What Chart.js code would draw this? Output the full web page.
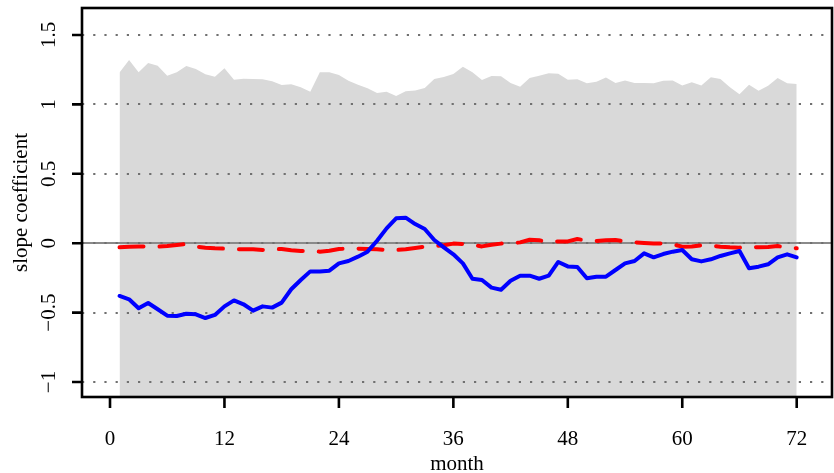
<!DOCTYPE html>
<html>
<head>
<meta charset="utf-8">
<script src="https://cdn.jsdelivr.net/npm/chart.js@4/dist/chart.umd.min.js"></script>
<style>
  html, body { margin: 0; padding: 0; background: #ffffff; }
  canvas { display: block; }
</style>
</head>
<body>
<canvas id="chart" width="834" height="473"></canvas>
<script>
// Months on the horizontal axis
const months = [1,2,3,4,5,6,7,8,9,10,11,12,13,14,15,16,17,18,19,20,21,22,23,24,
  25,26,27,28,29,30,31,32,33,34,35,36,37,38,39,40,41,42,43,44,45,46,47,48,
  49,50,51,52,53,54,55,56,57,58,59,60,61,62,63,64,65,66,67,68,69,70,71,72];

// Upper edge of the shaded band (band runs down past the bottom of the plot)
const bandUpper = [1.229,1.320,1.231,1.298,1.279,1.207,1.231,1.277,1.255,1.217,1.200,1.260,
  1.178,1.185,1.183,1.181,1.166,1.140,1.145,1.123,1.092,1.231,1.231,1.212,
  1.171,1.142,1.116,1.082,1.092,1.061,1.094,1.101,1.118,1.183,1.197,1.219,
  1.272,1.231,1.176,1.205,1.202,1.154,1.128,1.190,1.207,1.224,1.221,1.178,
  1.181,1.152,1.164,1.193,1.154,1.173,1.154,1.154,1.152,1.171,1.173,1.137,
  1.159,1.137,1.195,1.183,1.123,1.073,1.142,1.099,1.135,1.190,1.152,1.147];

// Estimated slope coefficient (solid blue)
const slopeEstimate = [-0.380,-0.404,-0.469,-0.431,-0.476,-0.522,-0.524,-0.508,-0.512,-0.539,-0.517,-0.455,
  -0.412,-0.440,-0.486,-0.455,-0.464,-0.428,-0.332,-0.265,-0.203,-0.203,-0.198,-0.145,
  -0.128,-0.097,-0.061,0.018,0.107,0.179,0.184,0.138,0.102,0.023,-0.030,-0.080,
  -0.145,-0.256,-0.265,-0.320,-0.335,-0.270,-0.234,-0.234,-0.256,-0.234,-0.135,-0.167,
  -0.171,-0.253,-0.241,-0.241,-0.193,-0.145,-0.128,-0.073,-0.102,-0.078,-0.061,-0.049,
  -0.116,-0.131,-0.116,-0.092,-0.073,-0.056,-0.181,-0.169,-0.152,-0.102,-0.080,-0.102];

// Reference slope (dashed red)
const slopeReference = [-0.030,-0.025,-0.023,-0.025,-0.025,-0.020,-0.013,-0.006,-0.025,-0.032,-0.037,-0.039,
  -0.044,-0.044,-0.044,-0.049,-0.044,-0.042,-0.051,-0.056,-0.056,-0.061,-0.054,-0.042,
  -0.039,-0.039,-0.042,-0.044,-0.049,-0.049,-0.044,-0.035,-0.025,-0.020,-0.015,-0.003,
  -0.006,-0.013,-0.023,-0.011,-0.003,-0.001,0.006,0.025,0.021,0.009,0.013,0.013,
  0.030,0.018,0.016,0.021,0.023,0.013,0.006,0.001,-0.003,-0.003,-0.008,-0.025,
  -0.023,-0.015,-0.018,-0.025,-0.030,-0.032,-0.025,-0.030,-0.027,-0.020,-0.032,-0.037];

// Axis ticks and their labels
const xTicks = [0, 12, 24, 36, 48, 60, 72];
const xTickLabels = ['0', '12', '24', '36', '48', '60', '72'];
const yTicks = [-1, -0.5, 0, 0.5, 1, 1.5];
const yTickLabels = ['\u22121', '\u22120.5', '0', '0.5', '1', '1.5'];
const xTitle = 'month';
const yTitle = 'slope coefficient';

const FONT = "21px 'Liberation Serif', 'Times New Roman', serif";

function pts(ys) { return months.map((m, i) => ({ x: m, y: ys[i] })); }

// Dotted reference lines and the solid zero line, drawn right after the band
const guideLines = {
  id: 'guideLines',
  afterDatasetDraw(chart, args) {
    if (args.index !== 0) return;
    const { ctx, chartArea: a, scales: { y } } = chart;
    ctx.save();
    ctx.beginPath();
    ctx.rect(a.left, a.top, a.right - a.left, a.bottom - a.top);
    ctx.clip();
    const y0 = Math.round(y.getPixelForValue(0));
    ctx.strokeStyle = '#8a8a8a';
    ctx.lineWidth = 2.2;
    ctx.beginPath();
    ctx.moveTo(a.left, y0);
    ctx.lineTo(a.right, y0);
    ctx.stroke();
    ctx.strokeStyle = '#707070';
    ctx.lineWidth = 2;
    ctx.setLineDash([2.2, 9]);
    yTicks.forEach(v => {
      const py = Math.round(y.getPixelForValue(v));
      ctx.beginPath();
      ctx.moveTo(a.left, py);
      ctx.lineTo(a.right, py);
      ctx.stroke();
    });
    ctx.restore();
  }
};

// Box, tick marks and text in the style of a base-graphics plot
const frame = {
  id: 'frame',
  afterDraw(chart) {
    const { ctx, chartArea: a, scales: { x, y } } = chart;
    ctx.save();
    ctx.strokeStyle = '#000000';
    ctx.lineWidth = 2.6;
    ctx.strokeRect(a.left, a.top, a.right - a.left, a.bottom - a.top);

    ctx.beginPath();
    xTicks.forEach(v => {
      const px = x.getPixelForValue(v);
      ctx.moveTo(px, a.bottom);
      ctx.lineTo(px, a.bottom + 11);
    });
    yTicks.forEach(v => {
      const py = y.getPixelForValue(v);
      ctx.moveTo(a.left, py);
      ctx.lineTo(a.left - 10, py);
    });
    ctx.stroke();

    ctx.fillStyle = '#000000';
    ctx.font = FONT;
    ctx.textAlign = 'center';
    ctx.textBaseline = 'alphabetic';
    xTicks.forEach((v, i) => {
      ctx.fillText(xTickLabels[i], x.getPixelForValue(v), 445);
    });
    ctx.fillText(xTitle, (a.left + a.right) / 2, 470);

    yTicks.forEach((v, i) => {
      ctx.save();
      ctx.translate(55, y.getPixelForValue(v));
      ctx.rotate(-Math.PI / 2);
      ctx.fillText(yTickLabels[i], 0, 0);
      ctx.restore();
    });
    ctx.save();
    ctx.translate(27, (a.top + a.bottom) / 2);
    ctx.rotate(-Math.PI / 2);
    ctx.fillText(yTitle, 0, 0);
    ctx.restore();
    ctx.restore();
  }
};

new Chart(document.getElementById('chart'), {
  type: 'line',
  data: {
    datasets: [
      {
        label: 'band',
        data: pts(bandUpper),
        borderWidth: 0,
        borderColor: 'rgba(0,0,0,0)',
        backgroundColor: '#d9d9d9',
        fill: 'start',
        pointRadius: 0,
        tension: 0,
        order: 3
      },
      {
        label: 'estimate',
        data: pts(slopeEstimate),
        borderColor: '#0000ff',
        borderWidth: 4,
        borderJoinStyle: 'round',
        borderCapStyle: 'round',
        fill: false,
        pointRadius: 0,
        tension: 0,
        order: 1
      },
      {
        label: 'reference',
        data: pts(slopeReference),
        borderColor: '#ff0000',
        borderWidth: 4,
        borderDash: [24, 16],
        borderJoinStyle: 'round',
        borderCapStyle: 'round',
        fill: false,
        pointRadius: 0,
        tension: 0,
        order: 2
      }
    ]
  },
  options: {
    responsive: false,
    animation: false,
    devicePixelRatio: 1,
    layout: { padding: { left: 82, right: 2, top: 8, bottom: 76 } },
    plugins: { legend: { display: false }, tooltip: { enabled: false } },
    scales: {
      x: { type: 'linear', min: -2.936, max: 75.70, display: false },
      y: { type: 'linear', min: -1.108, max: 1.6945, display: false }
    }
  },
  plugins: [guideLines, frame]
});
</script>
</body>
</html>
